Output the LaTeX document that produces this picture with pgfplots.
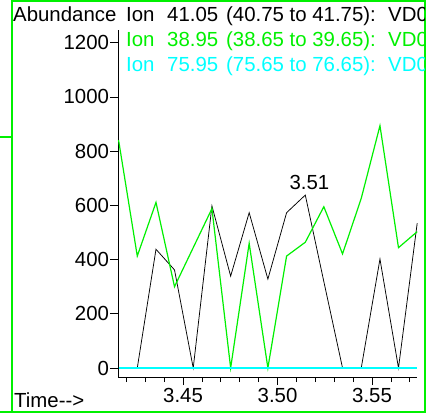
\documentclass[border=0pt]{standalone}
\usepackage{fontspec}
\setmainfont{Liberation Sans}
\usepackage{pgfplots}
\pgfplotsset{compat=1.18}
\definecolor{lgreen}{RGB}{0,240,0}
\definecolor{lcyan}{RGB}{0,255,255}
\newcommand{\ff}{\fontsize{20.4}{24}\selectfont}
\newcommand{\ionline}[6]{%
  \node[font=\ff, anchor=base west, inner sep=0pt, text=#1] at (126,#2) {Ion};
  \node[font=\ff, anchor=base west, inner sep=0pt, text=#1] at (167,#2) {#3};
  \node[font=\ff, anchor=base west, inner sep=0pt, text=#1] at (226,#2) {(#4 to #5):};
  \node[font=\ff, anchor=base west, inner sep=0pt, text=#1] at (388,#2) {#6};}
\begin{document}
\begin{tikzpicture}[x=1pt,y=1pt]
\useasboundingbox (0,0) rectangle (427,415);
\draw[lgreen, line width=2pt] (11.5,3) rectangle (425,414);
\draw[lgreen, line width=1.5pt] (0,278) -- (11.5,278);
\draw[lgreen, line width=1.5pt] (0,3) -- (11.5,3);
\begin{axis}[
  at={(118pt,38pt)}, anchor=south west,
  scale only axis, width=299pt, height=347pt,
  xmin=3.4156, xmax=3.5738, ymin=-33.2, ymax=1247,
  axis lines*=left,
  axis line style={black, line width=0.8pt},
  tick align=outside,
  major tick length=8pt, minor tick length=5pt,
  tick style={black, line width=0.8pt},
  xtick={3.45,3.50,3.55},
  minor xtick={3.42,3.43,3.44,3.46,3.47,3.48,3.49,3.51,3.52,3.53,3.54,3.56,3.57},
  ytick={0,200,400,600,800,1000,1200},
  /pgf/number format/assume math mode=true,
  /pgf/number format/1000 sep={},
  xticklabel style={font=\ff, /pgf/number format/fixed, /pgf/number format/precision=2, /pgf/number format/fixed zerofill},
  yticklabel style={font=\ff, xshift=2.5pt},
  clip=false,
]
\addplot[black, line width=0.75pt] coordinates {
(3.4159,0) (3.4258,0) (3.4357,438) (3.4455,362) (3.4554,0) (3.4653,598)
(3.4752,339) (3.4850,573) (3.4949,328) (3.5048,573) (3.5147,638) (3.5245,319)
(3.5344,0) (3.5443,0) (3.5542,402) (3.5640,0) (3.5739,534)};
\addplot[lgreen, line width=1.2pt] coordinates {
(3.4159,841) (3.4258,413) (3.4357,611) (3.4455,300) (3.4554,444) (3.4653,588)
(3.4752,0) (3.4850,460) (3.4949,0) (3.5048,413) (3.5147,464) (3.5245,595)
(3.5344,421) (3.5443,626) (3.5542,894) (3.5640,444) (3.5739,503)};
\addplot[lcyan, line width=1.8pt] coordinates {
(3.4159,0) (3.4258,0) (3.4357,0) (3.4455,0) (3.4554,0) (3.4653,0)
(3.4752,0) (3.4850,0) (3.4949,0) (3.5048,0) (3.5147,0) (3.5245,0)
(3.5344,0) (3.5443,0) (3.5542,0) (3.5640,0) (3.5739,0)};
\node[font=\ff, anchor=base, inner sep=0pt] at (axis cs:3.5169,657) {3.51};
\end{axis}
\begin{scope}
\clip (0,0) rectangle (424,415);
\node[font=\ff, anchor=base west, inner sep=0pt] at (13,393) {Abundance};
\ionline{black}{393}{41.05}{40.75}{41.75}{VD0}
\ionline{lgreen}{368}{38.95}{38.65}{39.65}{VD0}
\ionline{lcyan}{343}{75.95}{75.65}{76.65}{VD0}
\node[font=\ff, anchor=base west, inner sep=0pt] at (14,8) {Time-{}-{}>};
\end{scope}
\end{tikzpicture}
\end{document}
